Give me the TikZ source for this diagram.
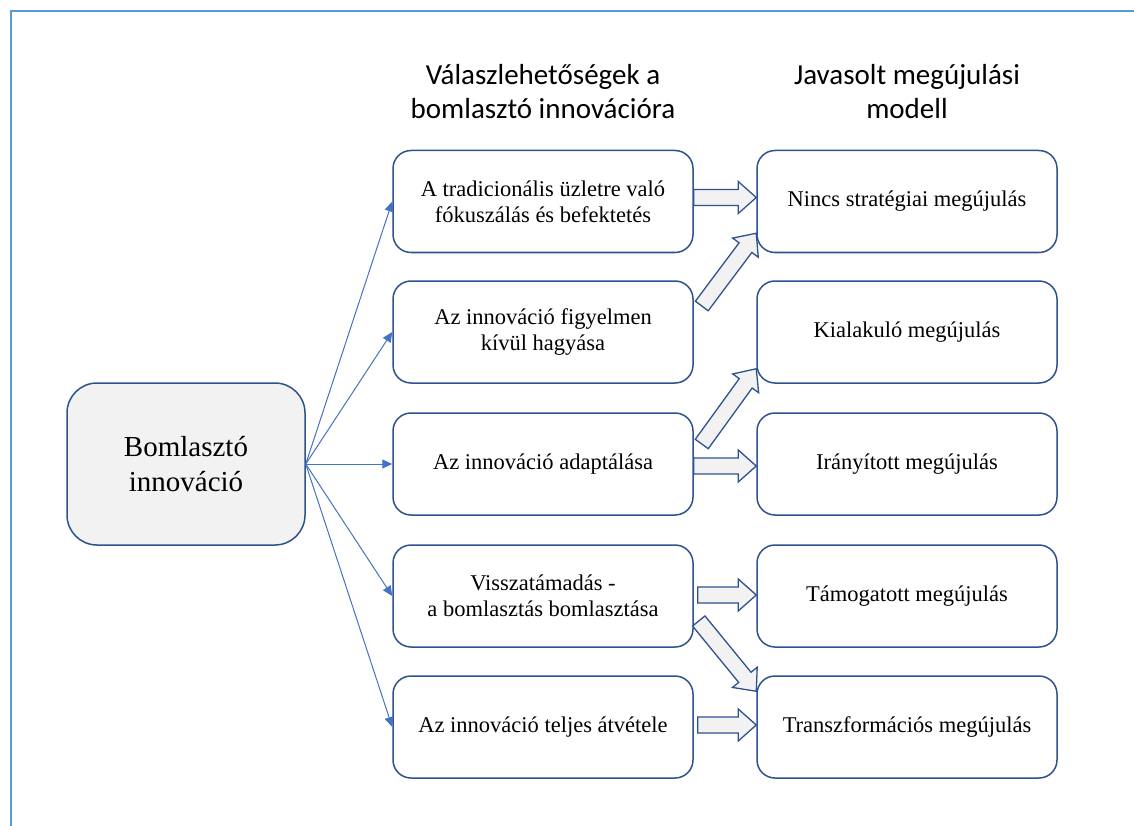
\documentclass[tikz,border=0pt]{standalone}
\usepackage{fontspec}
\setmainfont{Liberation Serif}
\newfontfamily\headfont{Carlito}
\usetikzlibrary{arrows.meta,calc}

\definecolor{boxline}{HTML}{2F528F}
\definecolor{boxfill}{HTML}{F2F2F2}
\definecolor{fanblue}{HTML}{4472C4}
\definecolor{frameblue}{HTML}{5B9BD5}

% wide outlined block arrow from #1 (tail centre) to #2 (tip)
\newcommand\fatarrow[2]{%
  \coordinate (fa-base) at ($(#2)!18pt!(#1)$);
  \draw[fat] ($(#1)!8pt!90:(#2)$) -- ($(fa-base)!8pt!-90:(#1)$)
    -- ($(fa-base)!16pt!-90:(#1)$) -- (#2) -- ($(fa-base)!16pt!90:(#1)$)
    -- ($(fa-base)!8pt!90:(#1)$) -- ($(#1)!8pt!-90:(#2)$) -- cycle;}

\begin{document}
\begin{tikzpicture}[x=1pt,y=-1pt,
  optbox/.style={draw=boxline, line width=1.5pt, rounded corners=18pt, fill=white,
    minimum width=300pt, minimum height=102pt, align=center, inner sep=0pt,
    font=\fontsize{22.5}{26}\selectfont},
  srcbox/.style={draw=boxline, line width=1.5pt, rounded corners=30pt, fill=boxfill,
    minimum width=238pt, minimum height=162pt, align=center, inner sep=0pt,
    font=\fontsize{29}{35}\selectfont},
  colhead/.style={align=center, inner sep=0pt, font=\headfont\fontsize{29}{34}\selectfont},
  fan/.style={draw=fanblue, line width=1pt, -{Triangle[length=10pt,width=9pt]}},
  fat/.style={draw=boxline, line width=1.3pt, fill=boxfill, line join=miter},
]
\useasboundingbox (0,0) rectangle (1134,826);
\fill[white] (0,0) rectangle (1134,826);
\draw[frameblue, line width=2.5pt] (11,826) -- (11,11) -- (1134,11);

% column headings
\node[colhead] (h1) at (543,92) {Válaszlehetőségek a\\bomlasztó innovációra};
\node[colhead] (h2) at (907,92) {Javasolt megújulási\\modell};

% source
\node[srcbox] (src) at (186,464) {Bomlasztó\\innováció};

% responses
\node[optbox] (m1) at (543,201.5) {A tradicionális üzletre való\\fókuszálás és befektetés};
\node[optbox] (m2) at (543,332) {Az innováció figyelmen\\kívül hagyása};
\node[optbox] (m3) at (543,464) {Az innováció adaptálása};
\node[optbox] (m4) at (543,596) {Visszatámadás -\\a bomlasztás bomlasztása};
\node[optbox] (m5) at (543,727) {Az innováció teljes átvétele};

% renewal models
\node[optbox] (r1) at (907,201.5) {Nincs stratégiai megújulás};
\node[optbox] (r2) at (907,332) {Kialakuló megújulás};
\node[optbox] (r3) at (907,464) {Irányított megújulás};
\node[optbox] (r4) at (907,596) {Támogatott megújulás};
\node[optbox] (r5) at (907,727) {Transzformációs megújulás};

% fan of thin arrows
\foreach \i in {1,...,5} \draw[fan] (src.east) -- (m\i.west);

% block arrows
\coordinate (t1) at ($(m1.east)+(0,-4)$);  \coordinate (p1) at ($(r1.west)+(0,-4)$);
\coordinate (t2) at ($(m2.east)+(8,-26)$); \coordinate (p2) at ($(r1.south west)+(0,-20)$);
\coordinate (t3) at ($(m3.east)+(8,-20)$); \coordinate (p3) at ($(r2.south west)+(0,-15)$);
\coordinate (t4) at ($(m3.east)+(0,2)$);   \coordinate (p4) at ($(r3.west)+(0,2)$);
\coordinate (t5) at ($(m4.east)+(4,-1)$);  \coordinate (p5) at ($(r4.west)+(0,-1)$);
\coordinate (t6) at ($(m4.east)+(5,25)$);  \coordinate (p6) at ($(r5.north west)+(0,16)$);
\coordinate (t7) at ($(m5.east)+(4,-2)$);  \coordinate (p7) at ($(r5.west)+(0,-2)$);
\foreach \k in {1,...,7} {\fatarrow{t\k}{p\k}}
\end{tikzpicture}
\end{document}
